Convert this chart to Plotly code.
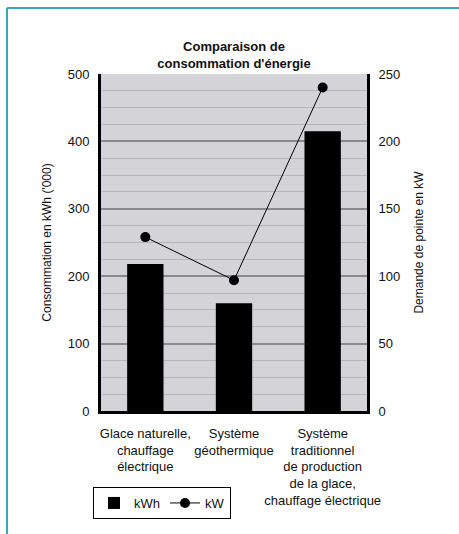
import plotly.graph_objects as go

categories = ["Glace naturelle,<br>chauffage<br>électrique",
              "Système<br>géothermique",
              "Système<br>traditionnel<br>de production<br>de la glace,<br>chauffage électrique"]
kwh_values = [218, 160, 415]
kw_values = [129, 97, 240]
left_ticks = [0, 100, 200, 300, 400, 500]
right_ticks = [0, 50, 100, 150, 200, 250]

FONT = "Liberation Sans, Arial, sans-serif"

fig = go.Figure()
fig.add_trace(go.Bar(x=categories, y=kwh_values, name="kWh", width=0.41,
                     marker=dict(color="black", line=dict(width=0)), yaxis="y"))
fig.add_trace(go.Scatter(x=categories, y=kw_values, name="kW", mode="lines+markers",
                         line=dict(color="black", width=1),
                         marker=dict(color="black", size=10), yaxis="y2"))

teal = "#3ba6b7"
fig.update_layout(
    width=459, height=534,
    margin=dict(l=101, r=92, t=74, b=123, autoexpand=False),
    paper_bgcolor="white", plot_bgcolor="#d4d4d8",
    font=dict(family=FONT, size=12, color="#111"),
    title=dict(text="<b>Comparaison de<br>consommation d'énergie</b>",
               x=(101 + 367) / 2 / 459, xanchor="center", y=1 - 51 / 534, yanchor="middle",
               font=dict(size=13, color="#111")),
    showlegend=True,
    legend=dict(orientation="h", x=(93 - 101) / 266, xanchor="left",
                y=(411 - 487) / 337, yanchor="top",
                bordercolor="black", borderwidth=1, bgcolor="white",
                font=dict(size=13), itemwidth=30, tracegroupgap=0),
    xaxis=dict(showgrid=False, showline=True, linecolor="black", linewidth=3,
               tickfont=dict(size=13), ticks="", tickangle=0, automargin=False,
               ticklabelstandoff=8),
    yaxis=dict(range=[0, 500], tickvals=left_ticks, showline=True, linecolor="black",
               linewidth=3, gridcolor="#8a8a8c", gridwidth=1.5, ticks="", automargin=False,
               tickfont=dict(size=13), ticklabelstandoff=6, zeroline=False,
               minor=dict(dtick=25, showgrid=True, gridcolor="#b6b6ba", gridwidth=1),
               title=dict(text="Consommation en kWh ('000)", font=dict(size=12), standoff=14)),
    yaxis2=dict(range=[0, 250], tickvals=right_ticks, overlaying="y", side="right",
                showline=True, linecolor="black", linewidth=3, showgrid=False, ticks="",
                automargin=False,
                tickfont=dict(size=13), ticklabelstandoff=6, zeroline=False,
                title=dict(text="Demande de pointe en kW", font=dict(size=12), standoff=16)),
    bargap=0.59,
    shapes=[
        dict(type="line", xref="paper", yref="paper",
             x0=(7 - 101) / 266, x1=(470 - 101) / 266,
             y0=(411 - 8) / 337, y1=(411 - 8) / 337,
             line=dict(color=teal, width=2)),
        dict(type="line", xref="paper", yref="paper",
             x0=(7 - 101) / 266, x1=(7 - 101) / 266,
             y0=(411 - 8) / 337, y1=(411 - 545) / 337,
             line=dict(color=teal, width=2)),
    ],
)

fig.write_html("out.html", config={"displayModeBar": False},
               post_script="document.body.style.margin='0';")
